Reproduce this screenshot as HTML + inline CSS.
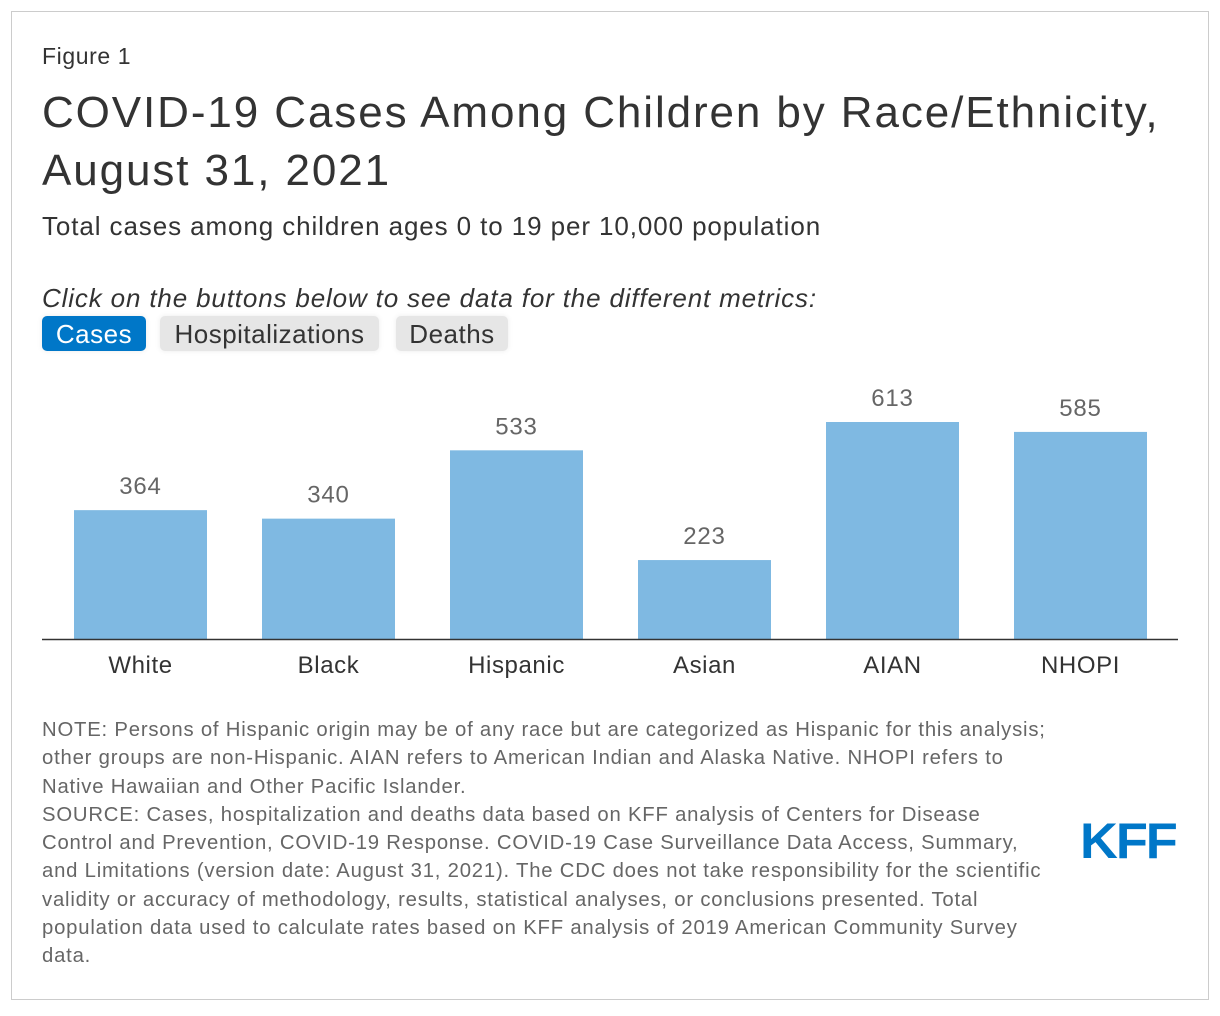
<!DOCTYPE html>
<html><head><meta charset="utf-8"><style>
body{margin:0;background:#fff;font-family:"Liberation Sans",Arial,sans-serif;}
#frame{position:absolute;left:11px;top:11px;width:1196px;height:987px;border:1px solid #ccc;}
.t{position:absolute;left:42px;color:#333;white-space:nowrap;}
.btn{position:absolute;top:316px;height:35px;border-radius:5px;font-size:26px;letter-spacing:0.5px;line-height:36px;text-align:center;background:#e6e6e6;color:#333;box-shadow:0 0 6px rgba(0,0,0,0.08);}
.note{position:absolute;left:42px;top:716px;white-space:nowrap;font-size:20.3px;letter-spacing:0.8px;line-height:28.3px;color:#666;}
</style></head><body>
<div id="frame"></div>
<div class="t" style="top:43px;font-size:23px;letter-spacing:0.6px;">Figure 1</div>
<div class="t" style="top:84px;font-size:44px;letter-spacing:1.9px;line-height:58px;color:#333;">COVID-19 Cases Among Children by Race/Ethnicity,<br>August 31, 2021</div>
<div class="t" style="top:211px;font-size:26px;letter-spacing:0.9px;">Total cases among children ages 0 to 19 per 10,000 population</div>
<div class="t" style="top:283px;font-size:26px;letter-spacing:0.85px;font-style:italic;">Click on the buttons below to see data for the different metrics:</div>
<div class="btn" style="left:42px;width:104px;background:#0077c8;color:#fff;">Cases</div>
<div class="btn" style="left:160px;width:219px;">Hospitalizations</div>
<div class="btn" style="left:396px;width:112px;">Deaths</div>
<svg id="chart" width="1220" height="720" style="position:absolute;left:0;top:0"></svg>
<div class="note">NOTE: Persons of Hispanic origin may be of any race but are categorized as Hispanic for this analysis;<br>other groups are non-Hispanic. AIAN refers to American Indian and Alaska Native. NHOPI refers to<br>Native Hawaiian and Other Pacific Islander.<br>SOURCE: Cases, hospitalization and deaths data based on KFF analysis of Centers for Disease<br>Control and Prevention, COVID-19 Response. COVID-19 Case Surveillance Data Access, Summary,<br>and Limitations (version date: August 31, 2021). The CDC does not take responsibility for the scientific<br>validity or accuracy of methodology, results, statistical analyses, or conclusions presented. Total<br>population data used to calculate rates based on KFF analysis of 2019 American Community Survey<br>data.</div>
<div style="position:absolute;left:1080px;top:812px;font-size:50px;font-weight:bold;color:#0077c8;letter-spacing:-2px;transform:scaleX(1.05);transform-origin:left;">KFF</div>
<script>
const categories=["White","Black","Hispanic","Asian","AIAN","NHOPI"];
const values=[364,340,533,223,613,585];
const svg=document.getElementById('chart');
const NS="http://www.w3.org/2000/svg";
const baseY=639, pxPerUnit=217/613, x0=74, step=188, bw=133;
const xPos=i=>x0+i*step;
const yPos=v=>baseY-v*pxPerUnit;
function mk(tag,attrs){const e=document.createElementNS(NS,tag);for(const k in attrs)e.setAttribute(k,attrs[k]);svg.appendChild(e);return e;}
categories.forEach((c,i)=>{
  const b=mk('rect',{x:xPos(i),y:yPos(values[i]),width:bw,height:baseY-yPos(values[i]),fill:'#7fb9e2'});
  
  
  const v=mk('text',{x:xPos(i)+bw/2,y:yPos(values[i])-16,'text-anchor':'middle','font-size':'24','letter-spacing':'0.8','fill':'#666','font-family':'Liberation Sans, sans-serif'});
  v.textContent=values[i];
  
  
  const l=mk('text',{x:xPos(i)+bw/2,y:673,'text-anchor':'middle','font-size':'24','letter-spacing':'0.6','fill':'#333','font-family':'Liberation Sans, sans-serif'});
  l.textContent=c;
  
  
});
const ax=mk('line',{x1:42,x2:1178,y1:baseY+0.5,y2:baseY+0.5,stroke:'#333','stroke-width':1.5});


</script>
</body></html>
